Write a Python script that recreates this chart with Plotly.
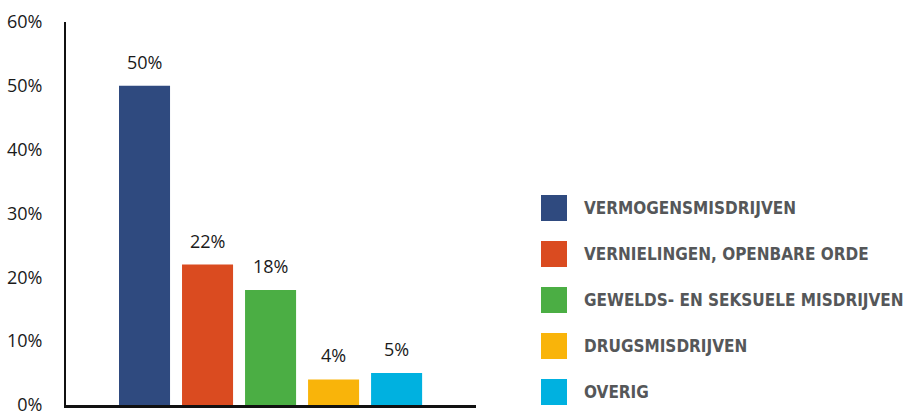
import plotly.graph_objects as go

# Share of registered offences per category (%)
categories = [
    "VERMOGENSMISDRIJVEN",
    "VERNIELINGEN, OPENBARE ORDE",
    "GEWELDS- EN SEKSUELE MISDRIJVEN",
    "DRUGSMISDRIJVEN",
    "OVERIG",
]
values = [50, 22, 18, 4, 5]
colors = ["#2F4A7F", "#DA4B20", "#4BAE44", "#F9B40A", "#00B1E0"]
y_ticks = [0, 10, 20, 30, 40, 50, 60]

W, H = 910, 413
M_L, M_R, M_T, M_B = 66, 434, 22, 8

fig = go.Figure()
positions = list(range(len(categories)))
fig.add_trace(go.Bar(
    x=positions,
    y=values,
    marker=dict(color=colors, line=dict(width=0)),
    width=0.81,
    showlegend=False,
    hoverinfo="skip",
))

# Value labels above each bar
for xi, v in zip(positions, values):
    fig.add_annotation(
        x=xi, y=v, xref="x", yref="y",
        text=f"{v}%", showarrow=False,
        yanchor="bottom", yshift=10,
        font=dict(family="Open Sans", size=18, color="#1a1a1a"),
    )

# Custom legend: coloured squares with condensed capital labels
plot_w = W - M_L - M_R
plot_h = H - M_T - M_B
row_y = [208, 254, 300, 346, 392]
for name, col, ry in zip(categories, colors, row_y):
    yp = (H - M_B - ry) / plot_h
    half = 13 / plot_h
    fig.add_shape(
        type="rect", xref="paper", yref="paper",
        x0=(541 - M_L) / plot_w, x1=(567 - M_L) / plot_w,
        y0=yp - half, y1=yp + half,
        fillcolor=col, line=dict(width=0),
    )
    fig.add_annotation(
        x=(582 - M_L) / plot_w, y=yp,
        xref="paper", yref="paper",
        xanchor="left", yanchor="middle",
        text=name, showarrow=False,
        font=dict(family="DejaVu Sans Condensed", size=17, weight="bold",
                  color="#555759"),
    )

fig.update_layout(
    width=W, height=H,
    margin=dict(l=M_L, r=M_R, t=M_T, b=M_B, autoexpand=False),
    paper_bgcolor="white",
    plot_bgcolor="white",
    xaxis=dict(
        range=[-1.246, 5.26],
        showticklabels=False,
        ticks="",
        showgrid=False,
        zeroline=False,
        showline=True, linecolor="#111111", linewidth=2.5,
        automargin=False,
        fixedrange=True,
    ),
    yaxis=dict(
        range=[0, 60],
        tickvals=y_ticks,
        ticktext=[f"{t}%" for t in y_ticks],
        showgrid=False,
        zeroline=False,
        showline=True, linecolor="#111111", linewidth=2,
        ticks="",
        ticklabelstandoff=18,
        ticklabeloverflow="allow",
        automargin=False,
        tickfont=dict(family="Open Sans", size=18, color="#1a1a1a"),
        fixedrange=True,
    ),
)

fig.write_html("out.html")
